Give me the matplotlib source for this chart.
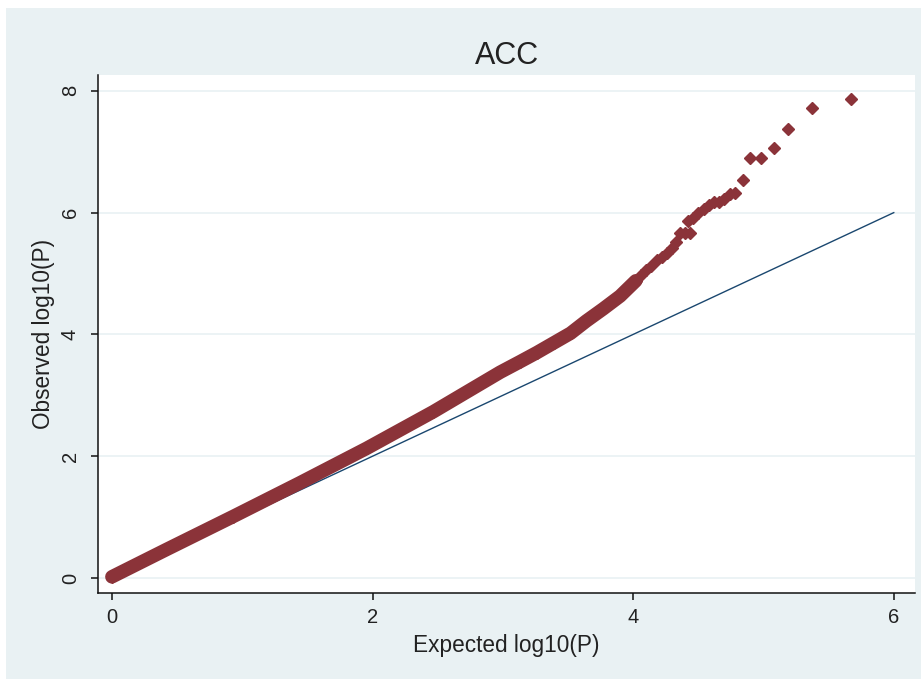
import matplotlib
matplotlib.use("Agg")
import matplotlib.pyplot as plt
from matplotlib.patches import Rectangle

# dense part of the QQ curve (expected vs observed -log10 P)
band_expected = [0.0, 0.42, 0.93, 1.44, 1.955, 2.466, 2.98, 3.13, 3.26, 3.39, 3.52, 3.64, 3.77, 3.90, 4.02]
band_observed = [0.02, 0.47, 1.01, 1.56, 2.13, 2.73, 3.38, 3.55, 3.70, 3.86, 4.02, 4.22, 4.42, 4.63, 4.88]

# sparse tail points
tail_expected = [4.06, 4.10, 4.14, 4.18, 4.22, 4.26, 4.30, 4.33, 4.36, 4.40, 4.44, 4.42, 4.46,
                 4.50, 4.54, 4.58, 4.62, 4.66, 4.70, 4.74, 4.78, 4.84, 4.90, 4.98, 5.08, 5.19,
                 5.37, 5.67]
tail_observed = [4.98, 5.05, 5.13, 5.22, 5.27, 5.33, 5.42, 5.52, 5.66, 5.66, 5.66, 5.86, 5.92,
                 6.00, 6.06, 6.12, 6.18, 6.17, 6.22, 6.30, 6.33, 6.54, 6.89, 6.89, 7.06, 7.38,
                 7.71, 7.87]

ref_x = [0, 6]
ref_y = [0, 6]

x_ticks = [0, 2, 4, 6]
y_ticks = [0, 2, 4, 6, 8]

bg = "#e9f1f3"
maroon = "#8b3339"
navy = "#1a476f"
txt = "#222222"

plt.rcParams["font.family"] = ["Liberation Sans", "DejaVu Sans"]

fig = plt.figure(figsize=(9.21, 6.79), dpi=100, facecolor="white")
fig.patches.append(Rectangle((6 / 921, 0), 1, (679 - 8) / 679, transform=fig.transFigure,
                             facecolor=bg, edgecolor="none", zorder=-10))

ax = fig.add_axes([98 / 921, (679 - 593) / 679, (915 - 98) / 921, (593 - 75) / 679])
ax.set_facecolor("white")

ax.plot(band_expected, band_observed, color=maroon, lw=9.8, solid_capstyle="round",
        solid_joinstyle="round", zorder=3)
ax.plot(band_expected, band_observed, "D", color=maroon, ms=6.2, mec=maroon, zorder=3)
ax.plot(tail_expected, tail_observed, "D", color=maroon, ms=6.2, mec=maroon, zorder=3)
ax.plot(ref_x, ref_y, color=navy, lw=1.0, zorder=2)

ax.set_xlim(-0.107, 6.163)
ax.set_ylim(-0.246, 8.26)
ax.set_xticks(x_ticks)
ax.set_yticks(y_ticks)
ax.yaxis.grid(True, color=bg, lw=1.2, zorder=0)
ax.set_axisbelow(True)

for s in ["top", "right"]:
    ax.spines[s].set_visible(False)
for s in ["left", "bottom"]:
    ax.spines[s].set_color("#111111")
    ax.spines[s].set_linewidth(1.1)

ax.tick_params(axis="both", direction="out", length=5, width=1.1, color="#111111",
               labelsize=14.5, labelcolor=txt)
ax.tick_params(axis="x", pad=6)
ax.tick_params(axis="y", pad=8, labelrotation=90)
for lab in ax.get_yticklabels():
    lab.set_va("center")

ax.set_xlabel("Expected log10(P)", fontsize=16.3, color=txt, labelpad=5)
ax.set_ylabel("Observed log10(P)", fontsize=16.3, color=txt, labelpad=4)
ax.set_title("ACC", fontsize=22, color=txt, pad=8)

fig.savefig("out.png", dpi=100, facecolor=fig.get_facecolor())
